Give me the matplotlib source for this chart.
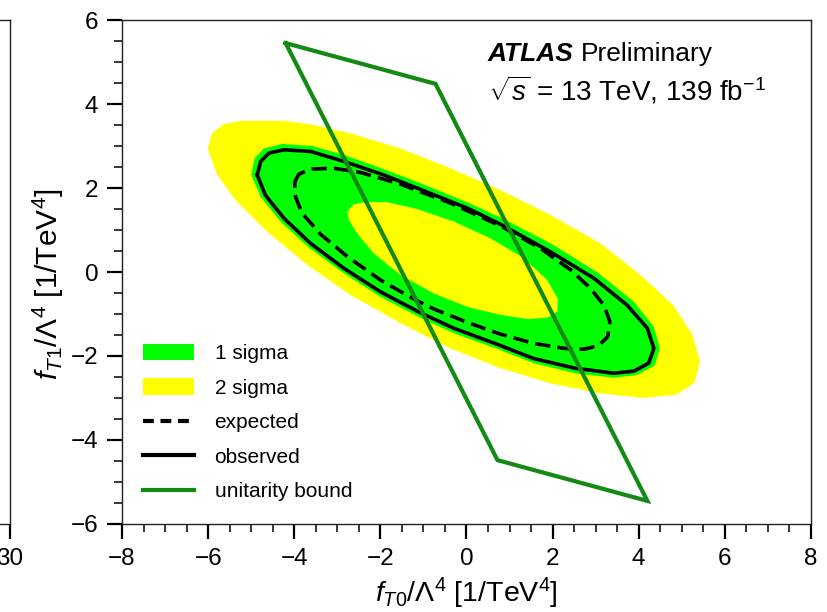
import matplotlib
matplotlib.use("Agg")
import matplotlib.pyplot as plt
from matplotlib.patches import Patch
from matplotlib.lines import Line2D
from matplotlib.ticker import MultipleLocator

plt.rcParams['font.family'] = ['Liberation Sans', 'DejaVu Sans']
plt.rcParams['mathtext.fontset'] = 'custom'
plt.rcParams['mathtext.rm'] = 'Liberation Sans'
plt.rcParams['mathtext.it'] = 'Liberation Sans:italic'
plt.rcParams['mathtext.bf'] = 'Liberation Sans:bold'

# ---- contour outlines in (f_T0, f_T1) [1/TeV^4] ----
sigma2_outer_x = [-6.01, -5.91, -5.64, -5.25, -4.24, -3.62, -2.69, -1.53, -0.37, 0.79,
                  1.95, 3.11, 4.04, 4.80, 5.25, 5.42, 5.30, 4.88, 4.12, 3.11,
                  1.95, 0.79, -0.37, -1.53, -2.69, -3.70, -4.63, -5.33, -5.79]
sigma2_outer_y = [2.94, 3.30, 3.52, 3.60, 3.60, 3.52, 3.30, 2.94, 2.47, 1.95,
                  1.36, 0.68, -0.07, -0.79, -1.50, -2.13, -2.63, -2.92, -3.00, -2.89,
                  -2.65, -2.29, -1.82, -1.22, -0.55, 0.17, 0.96, 1.67, 2.31]

sigma1_outer_x = [-5.00, -4.92, -4.71, -4.28, -3.58, -2.85, -1.92, -1.03, 0.02, 0.87,
                  2.03, 3.07, 3.89, 4.35, 4.49, 4.37, 3.96, 3.42, 2.52, 1.56,
                  0.71, -0.29, -1.09, -2.00, -2.85, -3.66, -4.32, -4.78]
sigma1_outer_y = [2.31, 2.71, 2.94, 3.05, 3.00, 2.79, 2.45, 2.10, 1.66, 1.26,
                  0.64, -0.03, -0.71, -1.30, -1.82, -2.23, -2.45, -2.52, -2.41, -2.17,
                  -1.83, -1.46, -1.08, -0.59, -0.03, 0.58, 1.20, 1.79]

sigma1_inner_x = [-2.77, -2.62, -2.31, -1.84, -1.15, -0.29, 0.56, 1.33, 1.87, 2.12,
                  2.11, 1.87, 1.41, 0.79, 0.02, -0.76, -1.53, -2.15, -2.54, -2.73]
sigma1_inner_y = [1.44, 1.61, 1.67, 1.66, 1.50, 1.20, 0.80, 0.33, -0.19, -0.63,
                  -0.94, -1.09, -1.12, -1.02, -0.83, -0.51, -0.07, 0.44, 0.92, 1.24]

expected_x = [-3.99, -3.89, -3.62, -3.08, -2.46, -1.53, -0.37, 0.82, 1.72, 2.42,
              2.88, 3.19, 3.33, 3.28, 3.07, 2.73, 2.28, 1.56, 0.79, 0.02,
              -0.76, -1.25, -2.00, -2.77, -3.39, -3.82, -3.97]
expected_y = [2.15, 2.33, 2.45, 2.47, 2.37, 2.09, 1.64, 1.08, 0.56, 0.05,
              -0.39, -0.79, -1.18, -1.54, -1.75, -1.84, -1.82, -1.70, -1.48, -1.20,
              -0.88, -0.63, -0.19, 0.37, 0.90, 1.40, 1.79]

observed_x = [-4.86, -4.78, -4.59, -4.24, -3.62, -2.87, -1.92, -1.03, 0.02, 0.82,
              1.95, 2.96, 3.73, 4.20, 4.35, 4.23, 3.89, 3.42, 2.52, 1.56,
              0.71, -0.29, -1.09, -2.00, -2.85, -3.62, -4.24, -4.67]
observed_y = [2.31, 2.63, 2.83, 2.91, 2.87, 2.64, 2.31, 1.95, 1.52, 1.12,
              0.48, -0.15, -0.79, -1.34, -1.82, -2.17, -2.36, -2.41, -2.29, -2.06,
              -1.72, -1.34, -0.96, -0.47, 0.09, 0.68, 1.28, 1.83]

unitarity_x = [-4.20, -0.72, 4.20, 0.72]
unitarity_y = [5.45, 4.48, -5.45, -4.48]

legend_labels = ["1 sigma", "2 sigma", "expected", "observed", "unitarity bound"]

C_GREEN = "#00ff00"
C_YELLOW = "#ffff00"
C_UNIT = "#138a13"


def closed(xs, ys):
    return list(xs) + [xs[0]], list(ys) + [ys[0]]


fig = plt.figure(figsize=(8.28, 6.12), dpi=100)

W, H = 828.0, 612.0
ax_left, ax_bottom = 122 / W, 88 / H
ax_w, ax_h = 689 / W, 504 / H


def style_axis(a):
    for s in a.spines.values():
        s.set_linewidth(1.0)
        s.set_color("#222222")
    a.tick_params(which="major", direction="out", length=11, width=1.6,
                  labelsize=17.5, pad=6, top=False, right=False)
    a.tick_params(which="minor", direction="out", length=6, width=1.1,
                  top=False, right=False)


# neighbouring panel (only its right edge falls inside the figure)
ax0 = fig.add_axes([10 / W - ax_w, ax_bottom, ax_w, ax_h])
ax0.set_xlim(-30, 30)
ax0.set_ylim(-6, 6)
ax0.set_xticks([30])
ax0.set_yticks([])
style_axis(ax0)

ax = fig.add_axes([ax_left, ax_bottom, ax_w, ax_h])
ax.set_xlim(-8, 8)
ax.set_ylim(-6, 6)
ax.xaxis.set_major_locator(MultipleLocator(2))
ax.xaxis.set_minor_locator(MultipleLocator(0.5))
ax.yaxis.set_major_locator(MultipleLocator(2))
ax.yaxis.set_minor_locator(MultipleLocator(0.5))
style_axis(ax)

# bands
x, y = closed(sigma2_outer_x, sigma2_outer_y)
ax.fill(x, y, color=C_YELLOW, lw=0, zorder=1)
x, y = closed(sigma1_outer_x, sigma1_outer_y)
ax.fill(x, y, color=C_GREEN, lw=0, zorder=2)
x, y = closed(sigma1_inner_x, sigma1_inner_y)
ax.fill(x, y, color=C_YELLOW, lw=0, zorder=3)

# expected / observed contours
x, y = closed(expected_x, expected_y)
ax.plot(x, y, color="black", lw=2.6, ls=(0, (4.2, 2.0)), zorder=4)
x, y = closed(observed_x, observed_y)
ax.plot(x, y, color="black", lw=2.6, solid_joinstyle="round", zorder=5)

# unitarity bound
x, y = closed(unitarity_x, unitarity_y)
ax.plot(x, y, color=C_UNIT, lw=3.0, solid_joinstyle="miter", zorder=6)

ax.set_xlabel(r"$f_{T0}/\Lambda^4$ [1/TeV$^4$]", fontsize=20.5)
ax.set_ylabel(r"$f_{T1}/\Lambda^4$ [1/TeV$^4$]", fontsize=21.5)
ax.xaxis.set_label_coords(0.5, -0.103)
ax.yaxis.set_label_coords(-0.082, 0.475)

handles = [
    Patch(facecolor=C_GREEN, edgecolor="none"),
    Patch(facecolor=C_YELLOW, edgecolor="none"),
    Line2D([], [], color="black", lw=3.0, ls=(0, (2.6, 1.6))),
    Line2D([], [], color="black", lw=3.0),
    Line2D([], [], color=C_UNIT, lw=3.0),
]
ax.legend(handles, legend_labels, loc="lower left", bbox_to_anchor=(0.03, 0.045),
          frameon=False, fontsize=15, handlelength=2.45, handleheight=0.85,
          handletextpad=1.0, labelspacing=0.72, borderpad=0, borderaxespad=0)

# experiment label
t_atlas = ax.text(0.531, 0.932, "ATLAS", transform=ax.transAxes, fontsize=19,
                  fontweight="bold", fontstyle="italic", va="center", ha="left")
fig.canvas.draw()
bb = t_atlas.get_window_extent(renderer=fig.canvas.get_renderer())
x_after = ax.transAxes.inverted().transform((bb.x1 + 7, 0))[0]
ax.text(x_after, 0.932, "Preliminary", transform=ax.transAxes,
        fontsize=19, va="center", ha="left")
ax.text(0.531, 0.860, r"$\sqrt{s}$ = 13 TeV, 139 fb$^{-1}$",
        transform=ax.transAxes, fontsize=20, va="center", ha="left")

fig.savefig("out.png", dpi=100)
